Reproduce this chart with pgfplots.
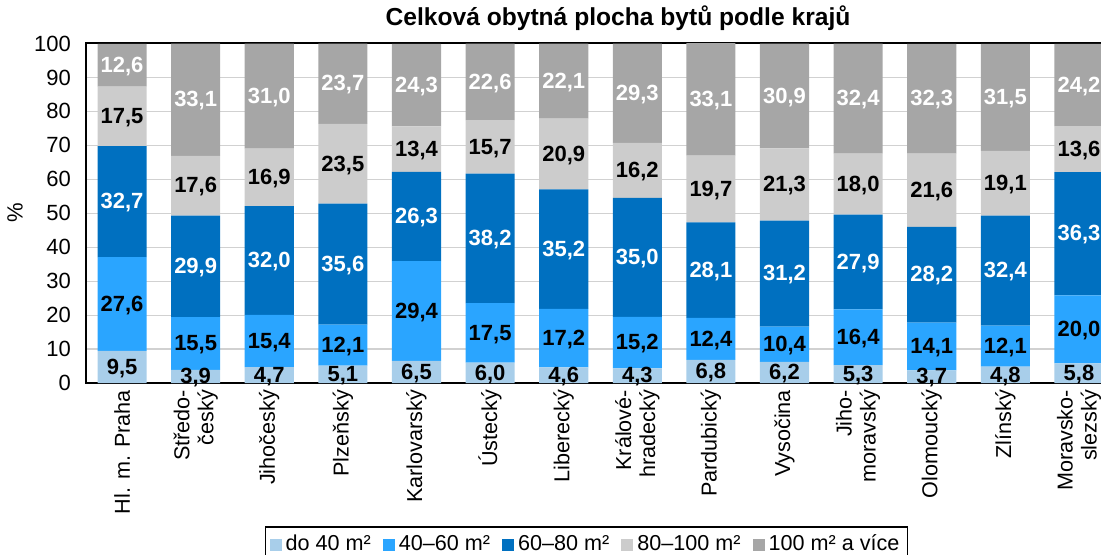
\documentclass[border=0pt]{standalone}
\usepackage{fontspec}
\setmainfont{Liberation Sans}
\usepackage{pgfplots}
\usepackage{pgfplotstable}
\pgfplotsset{compat=1.18}
\definecolor{cA}{HTML}{A8CEEA}
\definecolor{cB}{HTML}{2AA5FF}
\definecolor{cC}{HTML}{0070C0}
\definecolor{cD}{HTML}{CCCCCC}
\definecolor{cE}{HTML}{A6A6A6}
\pgfplotstableread{
x a b c d e
0 9.5 27.6 32.7 17.5 12.6
1 3.9 15.5 29.9 17.6 33.1
2 4.7 15.4 32.0 16.9 31.0
3 5.1 12.1 35.6 23.5 23.7
4 6.5 29.4 26.3 13.4 24.3
5 6.0 17.5 38.2 15.7 22.6
6 4.6 17.2 35.2 20.9 22.1
7 4.3 15.2 35.0 16.2 29.3
8 6.8 12.4 28.1 19.7 33.1
9 6.2 10.4 31.2 21.3 30.9
10 5.3 16.4 27.9 18.0 32.4
11 3.7 14.1 28.2 21.6 32.3
12 4.8 12.1 32.4 19.1 31.5
13 5.8 20.0 36.3 13.6 24.2
}\data
\pgfplotsset{
  common/.style={at={(43pt,-191.5pt)}, anchor=south west,
    scale only axis, width=514.5pt, height=170pt,
    xmin=-0.49, xmax=13.49, ymin=0, ymax=100.15,
    /pgf/number format/assume math mode=true},
  lab/.style={only marks, mark=*, mark size=0pt, mark options={draw=none,fill=none},
    point meta=explicit,
    nodes near coords={\pgfmathprintnumber[fixed,fixed zerofill,precision=1,use comma,assume math mode=true]{\pgfplotspointmeta}},
    every node near coord/.style={text=#1, font=\fontsize{11}{13}\selectfont\bfseries, anchor=center,
      inner sep=0pt, text height=0.72em, text depth=0pt}},
}
\begin{document}
\begin{tikzpicture}
\useasboundingbox (0,0) rectangle (550.5pt,-277.5pt);
\begin{axis}[common,
  ybar stacked, bar width=0.667,
  ytick={0,10,...,100},
  xtick=data,
  xticklabels={Hl. m. Praha, {Středo-\\český}, Jihočeský, Plzeňský, Karlovarský, Ústecký, Liberecký, {Králové-\\hradecký}, Pardubický, Vysočina, {Jiho-\\moravský}, Olomoucký, Zlínský, {Moravsko-\\slezský}},
  xticklabel style={rotate=90, anchor=east, align=right, font=\fontsize{10.8}{12}\selectfont},
  major tick length=0pt,
  yticklabel style={font=\fontsize{11}{13}\selectfont, xshift=-4pt},
  ymajorgrids, grid style={draw=black!18, line width=0.6pt},
  axis line style={line width=0.8pt},
  ylabel={\%}, ylabel style={at={(axis description cs:-0.069,0.5)}, anchor=center, font=\fontsize{11}{13}\selectfont},
  title={\bfseries Celková obytná plocha bytů podle krajů},
  title style={at={(axis description cs:0.517,1.0735)}, anchor=center, yshift=-6pt, font=\fontsize{12.3}{14}\selectfont},
  legend style={at={(axis description cs:0.4864,-0.422)}, anchor=north, legend columns=5, draw=black, line width=0.6pt,
    font=\fontsize{10.8}{12}\selectfont, inner sep=2pt,
    /tikz/every even column/.append style={column sep=4pt}},
  legend image code/.code={\fill[#1] (0pt,-3pt) rectangle (6pt,3pt);},
]
\addplot[fill=cA, draw=none] table[x=x,y=a]{\data};
\addplot[fill=cB, draw=none] table[x=x,y=b]{\data};
\addplot[fill=cC, draw=none] table[x=x,y=c]{\data};
\addplot[fill=cD, draw=none] table[x=x,y=d]{\data};
\addplot[fill=cE, draw=none] table[x=x,y=e]{\data};
\legend{do 40 m², 40–60 m², 60–80 m², 80–100 m², 100 m² a více}
\end{axis}
\begin{axis}[common, hide axis]
\addplot[lab=black] table[x=x, y expr={\thisrow{a}/2}, meta=a]{\data};
\addplot[lab=black] table[x=x, y expr={\thisrow{a}+\thisrow{b}/2}, meta=b]{\data};
\addplot[lab=white] table[x=x, y expr={\thisrow{a}+\thisrow{b}+\thisrow{c}/2}, meta=c]{\data};
\addplot[lab=black] table[x=x, y expr={\thisrow{a}+\thisrow{b}+\thisrow{c}+\thisrow{d}/2}, meta=d]{\data};
\addplot[lab=white] table[x=x, y expr={\thisrow{a}+\thisrow{b}+\thisrow{c}+\thisrow{d}+\thisrow{e}/2}, meta=e]{\data};
\end{axis}
\end{tikzpicture}
\end{document}
